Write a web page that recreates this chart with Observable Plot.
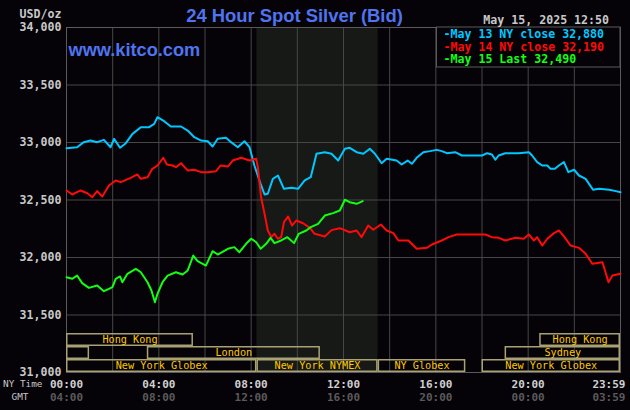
<!DOCTYPE html>
<html><head><meta charset="utf-8">
<script src="https://cdn.jsdelivr.net/npm/d3@7"></script>
<script src="https://cdn.jsdelivr.net/npm/@observablehq/plot@0.6"></script>
<style>html,body{margin:0;padding:0;background:#050307;overflow:hidden}</style>
</head><body><div id="chart"></div>
<script>
// ---- data (hours NY time, price USD/oz) ----
const may13 = [[0,32950],[0.46,32959],[0.75,33003],[1.04,33017],[1.33,33003],[1.62,33023],[1.91,32959],[2.06,33032],[2.32,32954],[2.57,32994],[2.86,33075],[3.22,33133],[3.58,33133],[3.8,33162],[3.94,33220],[4.23,33185],[4.52,33139],[4.96,33139],[5.25,33104],[5.54,33046],[5.83,33017],[6.12,33011],[6.33,32965],[6.55,33032],[6.91,33041],[7.13,33003],[7.42,32959],[7.71,33011],[7.93,32959],[8.14,32800],[8.41,32641],[8.58,32548],[8.72,32554],[8.94,32684],[9.16,32713],[9.42,32597],[9.74,32606],[10.03,32597],[10.32,32670],[10.58,32698],[10.83,32902],[11.19,32916],[11.48,32902],[11.77,32843],[12.06,32945],[12.27,32954],[12.57,32916],[12.86,32902],[13.14,32945],[13.36,32902],[13.65,32820],[13.87,32858],[14.3,32843],[14.52,32809],[14.78,32843],[14.96,32815],[15.17,32867],[15.46,32916],[15.75,32925],[16.04,32936],[16.26,32925],[16.48,32907],[16.84,32916],[17.13,32887],[18.0,32887],[18.22,32907],[18.43,32896],[18.58,32850],[18.72,32887],[19.01,32907],[19.59,32907],[20.03,32916],[20.17,32887],[20.39,32829],[20.61,32800],[20.83,32800],[20.97,32771],[21.16,32771],[21.33,32800],[21.55,32829],[21.74,32742],[21.99,32763],[22.2,32713],[22.49,32684],[22.81,32589],[23.07,32597],[23.51,32589],[23.8,32577],[24,32568]];
const may14 = [[0,32583],[0.25,32548],[0.61,32583],[0.9,32559],[1.12,32524],[1.33,32577],[1.55,32530],[1.84,32626],[2.13,32670],[2.35,32655],[2.78,32693],[3.07,32722],[3.22,32684],[3.51,32698],[3.72,32771],[3.94,32800],[4.19,32867],[4.35,32809],[4.59,32800],[4.74,32785],[4.96,32820],[5.25,32757],[5.54,32763],[5.83,32742],[6.12,32742],[6.48,32750],[6.67,32800],[6.99,32791],[7.2,32843],[7.57,32867],[7.93,32843],[8.22,32858],[8.29,32785],[8.43,32524],[8.58,32380],[8.72,32235],[8.87,32177],[9.01,32206],[9.16,32163],[9.3,32177],[9.42,32307],[9.6,32357],[9.77,32278],[9.96,32322],[10.25,32298],[10.54,32258],[10.75,32206],[11.19,32183],[11.48,32238],[11.84,32255],[12.27,32220],[12.57,32235],[12.78,32177],[13.07,32278],[13.29,32241],[13.62,32287],[13.87,32235],[14.16,32212],[14.38,32148],[14.81,32148],[15.17,32076],[15.61,32084],[15.83,32113],[16.26,32148],[16.55,32177],[16.91,32200],[18.14,32200],[18.43,32177],[18.73,32171],[19.01,32148],[19.45,32171],[19.81,32163],[20.03,32200],[20.25,32148],[20.39,32177],[20.61,32104],[20.83,32163],[21.12,32212],[21.33,32235],[21.55,32183],[21.84,32104],[22.2,32084],[22.49,32032],[22.78,31946],[23.22,31959],[23.48,31785],[23.65,31843],[24,31858]];
const may15 = [[0,31829],[0.25,31815],[0.46,31843],[0.68,31777],[0.97,31736],[1.33,31757],[1.62,31707],[1.84,31728],[1.99,31742],[2.13,31815],[2.32,31835],[2.42,31785],[2.64,31858],[3.0,31901],[3.22,31872],[3.51,31785],[3.68,31713],[3.83,31611],[3.94,31684],[4.16,31785],[4.38,31843],[4.74,31872],[5.03,31852],[5.25,31887],[5.49,32017],[5.68,31968],[6.04,31930],[6.33,32055],[6.55,32026],[6.99,32076],[7.27,32090],[7.49,32046],[7.78,32119],[8.0,32163],[8.22,32133],[8.41,32076],[8.65,32119],[8.84,32171],[9.01,32125],[9.3,32148],[9.57,32177],[9.86,32125],[10.06,32206],[10.39,32235],[10.58,32264],[10.9,32293],[11.19,32365],[11.55,32386],[11.84,32409],[12.06,32502],[12.27,32481],[12.57,32467],[12.83,32490]];

const seriesNames = ["May 13 NY close", "May 14 NY close", "May 15 Last"];
const seriesLast = [32880, 32190, 32490];

const yTicks = [31000, 31500, 32000, 32500, 33000, 33500, 34000];
const xGrid = [0, 2, 4, 6, 8, 10, 12, 14, 16, 18, 20, 22, 24];
const timeTicks = [0, 4, 8, 12, 16, 20];
const nyLabels = ["00:00", "04:00", "08:00", "12:00", "16:00", "20:00"];
const gmtLabels = ["04:00", "08:00", "12:00", "16:00", "20:00", "00:00"];
const endTick = [24];
const nyEnd = ["23:59"];
const gmtEnd = ["03:59"];

const nymexStart = [8.25];
const nymexEnd = [13.5];

const sessLabels = ["Hong Kong", "Hong Kong", "Sydney", "London", "Sydney", "New York Globex", "New York NYMEX", "NY Globex", "New York Globex"];
const sessStart  = [0, 20.5, 0, 3.5, 19, 0, 8.25, 13.5, 18];
const sessEnd    = [5.5, 24, 1, 11, 24, 8.25, 13.5, 17.3, 24];
const sessRow    = [1, 1, 2, 2, 2, 3, 3, 3, 3];

const titleText = "24 Hour Spot Silver (Bid)";
const siteText = "www.kitco.com";
const stampText = "May 15, 2025 12:50";
const unitText = "USD/oz";

// ---- styles ----
const BG = "#050307";
const colors = ["#00c8ff", "#ff0a0a", "#12ff12"];
const MONO = "DejaVu Sans Mono";
const ROW = 113; // height of a session row in price units

const fmt = d3.format(",");
const series = [may13, may14, may15].map(s => s.map(([h, p]) => ({h, p})));
const sessions = sessLabels.map((label, i) => ({
  label, start: sessStart[i], end: sessEnd[i],
  y1: yTicks[0] + (3 - sessRow[i]) * ROW, y2: yTicks[0] + (4 - sessRow[i]) * ROW
}));
const shade = nymexStart.map((s, i) => ({s, e: nymexEnd[i]}));

function legend(index, scales, values, dims) {
  const g = d3.create("svg:g").attr("text-anchor", "start");
  const right = dims.width - dims.marginRight;
  const top = dims.marginTop;
  const w = 183.5, h = 40;
  g.append("rect").attr("x", right - w).attr("y", top).attr("width", w).attr("height", h)
    .attr("fill", BG).attr("stroke", "#5a5a5a").attr("stroke-width", 1);
  seriesNames.forEach((name, i) => {
    g.append("text").attr("x", right - w + 7).attr("y", top + 11.3 + i * 12.5)
      .attr("fill", colors[i]).attr("font-family", MONO).attr("font-weight", "bold")
      .attr("font-size", 11.6).text("-" + name + " " + fmt(seriesLast[i]));
  });
  return g.node();
}

const textBase = {fontFamily: MONO, fontWeight: "bold", fontSize: 11.6, stroke: null, lineAnchor: "middle"};
const xLab = {...textBase, fontSize: 11};

const chart = Plot.plot({
  width: 630, height: 410,
  marginLeft: 66, marginRight: 10, marginTop: 27, marginBottom: 38,
  x: {domain: [0, 24], axis: null},
  y: {domain: [yTicks[0], yTicks[yTicks.length - 1]], axis: null},
  style: {background: BG, overflow: "visible"},
  marks: [
    Plot.rect(shade, {x1: "s", x2: "e", fill: "#161916"}),
    Plot.ruleX(xGrid, {stroke: "#464646", strokeWidth: 1}),
    Plot.ruleY(yTicks, {stroke: "#464646", strokeWidth: 1}),
    Plot.frame({stroke: "#5a5a5a"}),
    Plot.rect(sessions, {x1: "start", x2: "end", y1: "y1", y2: "y2", fill: "none", stroke: "#a8a274", strokeWidth: 1.5, inset: 0.75}),
    Plot.text(sessions.filter(d => d.end - d.start > 2), {x: d => (d.start + d.end) / 2, y: d => (d.y1 + d.y2) / 2, text: "label", fill: "#ffc800", fontFamily: MONO, fontSize: 10.2, stroke: null, lineAnchor: "middle"}),
    ...series.map((s, i) => Plot.line(s, {x: "h", y: "p", stroke: colors[i], strokeWidth: 2, curve: "linear"})),
    legend,
    // y labels
    Plot.text(yTicks, {y: d => d, text: d => fmt(d), frameAnchor: "left", textAnchor: "end", dx: -5, fill: "#c8c8c8", ...textBase}),
    Plot.text([unitText], {text: d => d, frameAnchor: "top-left", textAnchor: "end", dx: -5, dy: -13.5, fill: "#c8c8c8", ...textBase}),
    // x labels
    Plot.text(timeTicks, {x: d => d, text: (d, i) => nyLabels[i], frameAnchor: "bottom", dy: 11.5, fill: "#d0d0d0", ...xLab}),
    Plot.text(timeTicks, {x: d => d, text: (d, i) => gmtLabels[i], frameAnchor: "bottom", dy: 24.5, fill: "#5a5a5a", ...xLab}),
    Plot.text(endTick, {x: d => d, text: (d, i) => nyEnd[i], frameAnchor: "bottom", textAnchor: "end", dx: 5, dy: 11.5, fill: "#d0d0d0", ...xLab}),
    Plot.text(endTick, {x: d => d, text: (d, i) => gmtEnd[i], frameAnchor: "bottom", textAnchor: "end", dx: 5, dy: 24.5, fill: "#5a5a5a", ...xLab}),
    Plot.text(["NY Time"], {text: d => d, frameAnchor: "bottom-left", textAnchor: "start", dx: -63.5, dy: 11.5, fill: "#c8c8c8", fontFamily: MONO, fontSize: 9.4, stroke: null, lineAnchor: "middle"}),
    Plot.text(["GMT"], {text: d => d, frameAnchor: "bottom-left", textAnchor: "start", dx: -55, dy: 24.5, fill: "#c8c8c8", fontFamily: MONO, fontSize: 9.4, stroke: null, lineAnchor: "middle"}),
    // titles
    Plot.text([titleText], {text: d => d, frameAnchor: "top-left", textAnchor: "middle", dx: 228, dy: -11.3, fill: "#5074f0", fontFamily: "Liberation Sans", fontWeight: "bold", fontSize: 18.4, stroke: null, lineAnchor: "middle"}),
    Plot.text([siteText], {text: d => d, frameAnchor: "top-left", textAnchor: "start", dx: 2, dy: 23, fill: "#5074f0", fontFamily: "Liberation Sans", fontWeight: "bold", fontSize: 18.2, stroke: null, lineAnchor: "middle"}),
    Plot.text([stampText], {text: d => d, frameAnchor: "top-right", textAnchor: "end", dx: -11.5, dy: -7, fill: "#c8c8c8", ...textBase})
  ]
});
document.getElementById("chart").appendChild(chart);
</script>
</body></html>
